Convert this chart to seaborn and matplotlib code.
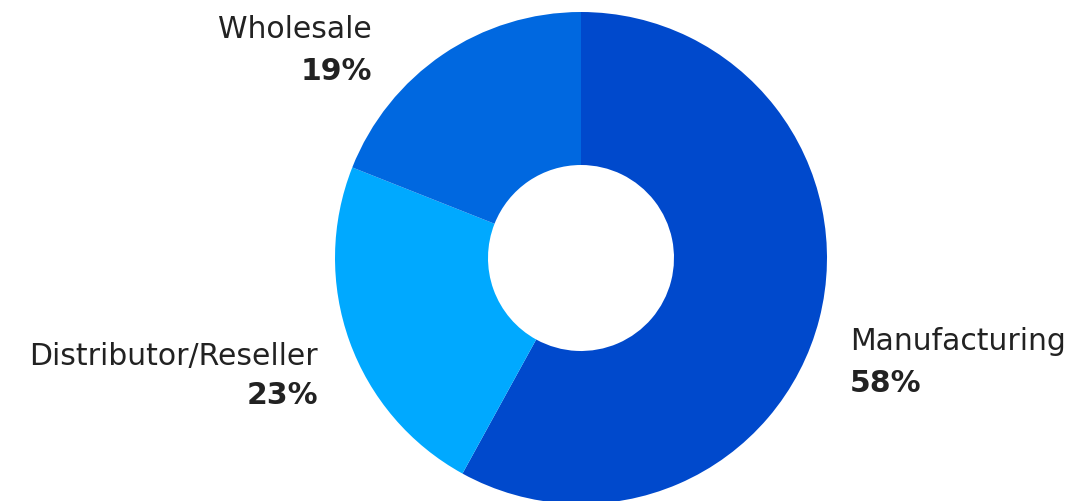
import matplotlib
matplotlib.use("Agg")
import matplotlib.pyplot as plt
import seaborn as sns

categories = ["Manufacturing", "Distributor/Reseller", "Wholesale"]
shares = [58, 23, 19]
colors = ["#0049CC", "#00A9FF", "#0068E0"]

sns.set_theme(style="white")
plt.rcParams['font.family'] = ['DejaVu Sans']

W, H = 1065, 501
fig = plt.figure(figsize=(W / 100, H / 100), dpi=100)
ax = fig.add_axes([0, 0, 1, 1])

cx, cy, R, r_in = 581, H - 258, 246, 93
ax.pie(shares, colors=colors, startangle=90, counterclock=False,
       center=(cx, cy), radius=R,
       wedgeprops=dict(width=R - r_in, linewidth=0))
ax.set_xlim(0, W)
ax.set_ylim(0, H)
ax.set_aspect('equal')
ax.axis('off')

# label positions (pixels from top-left): (x, name_baseline, pct_baseline, ha)
label_pos = {
    "Manufacturing": (850, 350, 392, 'left'),
    "Distributor/Reseller": (318, 365, 404, 'right'),
    "Wholesale": (372, 38, 80, 'right'),
}
tc = "#222222"
for cat, val in zip(categories, shares):
    x, y1, y2, ha = label_pos[cat]
    ax.text(x, H - y1, cat, ha=ha, va='baseline', fontsize=21.5, color=tc)
    ax.text(x, H - y2, f"{val}%", ha=ha, va='baseline', fontsize=21.5,
            fontweight='bold', color=tc)

fig.savefig("out.png", dpi=100)
